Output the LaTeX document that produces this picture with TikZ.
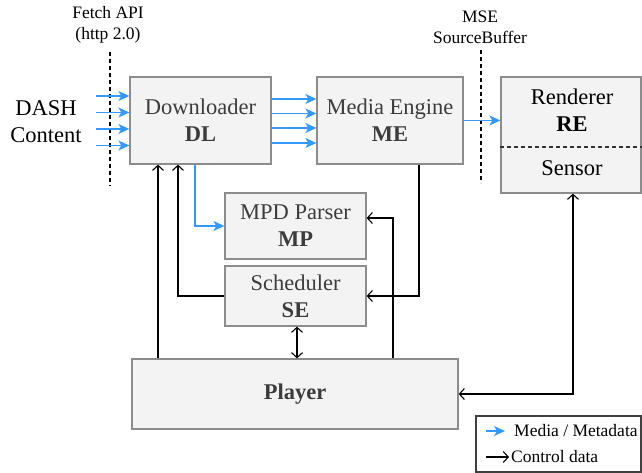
\documentclass[tikz,border=0pt]{standalone}
\usepackage{fontspec}
\setmainfont{Liberation Serif}
\usetikzlibrary{arrows.meta}
\definecolor{bl}{RGB}{51,153,255}
\definecolor{bx}{RGB}{243,243,243}
\definecolor{bd}{RGB}{140,140,140}
\definecolor{tx}{RGB}{60,60,60}
\begin{document}
\begin{tikzpicture}[x=1pt,y=-1pt,
 box/.style={draw=bd, line width=1.3pt, fill=bx, inner sep=0pt, align=center, text=tx,
   font=\fontsize{22.5}{27}\selectfont},
 plain/.style={inner sep=0pt, align=center, font=\fontsize{22.5}{27}\selectfont},
 small/.style={inner sep=0pt, align=center, font=\fontsize{17.5}{20.5}\selectfont},
 med/.style={draw=bl, line width=1.4pt, -{Stealth[length=11pt,width=10pt,inset=3pt]}},
 ctl/.style={draw=black, line width=1.1pt, -{Straight Barb[length=5pt,width=11pt]}},
 ctlb/.style={draw=black, line width=1.1pt, {Straight Barb[length=5pt,width=11pt]}-{Straight Barb[length=5pt,width=11pt]}},
 vsep/.style={line width=1.2pt, dash pattern=on 4pt off 3pt}
]
\useasboundingbox (0,0) rectangle (642,473);

% boxes
\node[box, minimum width=141pt, minimum height=87pt] (dl) at (200.5,120.5) {Downloader\\\textbf{DL}};
\node[box, minimum width=146pt, minimum height=87pt] (me) at (390,120.5) {Media Engine\\\textbf{ME}};
\node[box, minimum width=140pt, minimum height=116pt] (re) at (571,135) {};
\draw[vsep, draw=black!80] (re.west |- 0,147) -- (re.east |- 0,147);
\node[plain] (retext) at (572,110.5) {Renderer\\\textbf{RE}};
\node[plain] (sensor) at (572,168) {Sensor};
\node[box, minimum width=141pt, minimum height=66pt] (mp) at (295.5,226) {MPD Parser\\\textbf{MP}};
\node[box, minimum width=141pt, minimum height=60pt] (se) at (295.5,296) {Scheduler\\\textbf{SE}};
\node[box, minimum width=326pt, minimum height=70pt] (player) at (295,394) {\textbf{Player}};

% labels
\node[plain] (dash) at (46,121.5) {DASH\\Content};
\node[small] (fetch) at (108,25) {Fetch API\\(http 2.0)};
\node[small] (mse) at (480,27.5) {MSE\\SourceBuffer};
\draw[vsep] (110,52) -- (110,186);
\draw[vsep] (481,50) -- (481,183);

% media arrows
\foreach \y [count=\i] in {96,112.5,129,145.5} {
  \coordinate (in\i) at (96,\y);
  \draw[med] (in\i) -- (in\i -| dl.west);
}
\foreach \y in {99,113.5,128,143}
  \draw[med] (dl.east |- 0,\y) -- (me.west |- 0,\y);
\draw[med] (me.east) -- (re.west |- me.east);
\draw[med] ([xshift=-5.5pt]dl.south) |- (mp.west);

% control arrows
\draw[ctl] ([xshift=-42.5pt]dl.south |- player.north) -- ([xshift=-42.5pt]dl.south);
\draw[ctl] (se.west) -| ([xshift=-22.5pt]dl.south);
\draw[ctl] ([xshift=29pt]me.south) |- (se.east);
\draw[ctl] ([xshift=98pt]player.north) |- ([yshift=8pt]mp.east);
\draw[ctlb] ([xshift=1.5pt]se.south) -- ([xshift=1.5pt]se.south |- player.north);
\draw[ctlb] (player.east) -| ([xshift=2pt]re.south);

% legend
\node[draw=black!75, line width=1.2pt, inner sep=0pt, minimum width=165pt, minimum height=56pt] (legend) at (558.5,444) {};
\coordinate (lga) at (486,431);
\coordinate (lgb) at (505,431);
\coordinate (lgc) at (486,457);
\coordinate (lgd) at (509,457);
\draw[med] (lga) -- (lgb);
\draw[ctl] (lgc) -- (lgd);
\node[small, anchor=west] (lgt1) at (514,431) {Media / Metadata};
\node[small, anchor=west] (lgt2) at (511,457) {Control data};
\end{tikzpicture}
\end{document}
